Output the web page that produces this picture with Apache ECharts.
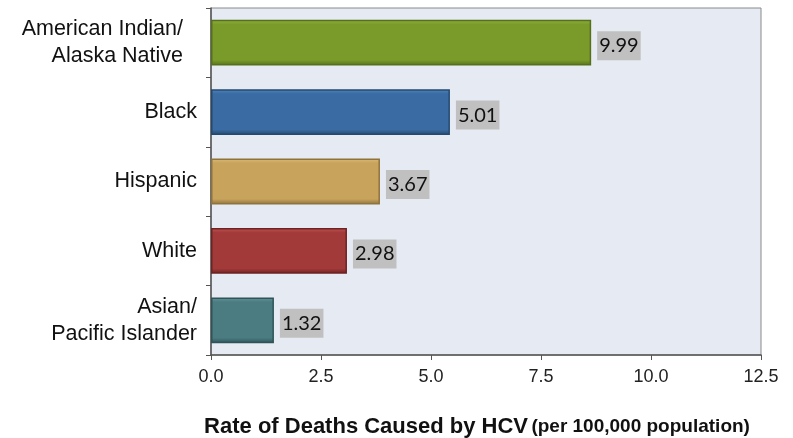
<!DOCTYPE html>
<html>
<head>
<meta charset="utf-8">
<script src="https://cdn.jsdelivr.net/npm/echarts@6/dist/echarts.min.js"></script>
<style>
  html, body { margin: 0; padding: 0; background: #fff; }
  #chart { width: 793px; height: 438px; }
</style>
</head>
<body>
<div id="chart"></div>
<script>
const categories = ['American Indian/\nAlaska Native', 'Black', 'Hispanic', 'White', 'Asian/\nPacific Islander']
// bar lengths as drawn against the axis
const barValues = [8.64, 5.43, 3.84, 3.09, 1.43]
// value labels printed next to the bars
const labelValues = ['9.99', '5.01', '3.67', '2.98', '1.32']
const barColors = [
  ['#93b43e', '#7a9a2a', '#55701a'],
  ['#4f86c0', '#3a6ca3', '#24496f'],
  ['#dcb978', '#c8a35c', '#8f733c'],
  ['#c45353', '#a33a3a', '#6e2222'],
  ['#62959b', '#4b7c82', '#2f5458']
]

const myChart = echarts.init(document.getElementById('chart'))

const option = {
  animation: false,
  grid: {
    left: 211,
    right: 32,
    top: 8,
    bottom: 83,
    containLabel: false,
    outerBoundsMode: 'none',
    show: true,
    backgroundColor: '#e6eaf3',
    borderColor: '#8a8a8a',
    borderWidth: 1
  },
  xAxis: {
    type: 'value',
    min: 0,
    max: 12.5,
    interval: 2.5,
    splitLine: { show: false },
    axisLine: { show: true, lineStyle: { color: '#555', width: 1.5 } },
    axisTick: { show: true, length: 5, lineStyle: { color: '#555' } },
    axisLabel: {
      color: '#222',
      fontFamily: 'Liberation Sans',
      fontSize: 18,
      margin: 13,
      formatter: v => v.toFixed(1)
    },
    name: '{b|Rate of Deaths Caused by HCV} {s|(per 100,000 population)}',
    nameLocation: 'middle',
    nameGap: 61,
    nameTextStyle: {
      padding: [0, 18, 0, 0],
      rich: {
        b: { fontFamily: 'Liberation Sans', fontWeight: 'bold', fontSize: 22, color: '#111' },
        s: { fontFamily: 'Liberation Sans', fontWeight: 'bold', fontSize: 19, color: '#111' }
      }
    }
  },
  yAxis: {
    type: 'category',
    data: categories,
    inverse: true,
    axisLine: { show: true, lineStyle: { color: '#555', width: 1.5 } },
    axisTick: { show: true, length: 5, lineStyle: { color: '#555' } },
    axisLabel: {
      color: '#111',
      fontFamily: 'Liberation Sans',
      fontSize: 21.5,
      lineHeight: 27,
      margin: 14,
      align: 'right',
      formatter: (v, i) => i === 0
        ? v.split('\n').map(l => '{o|' + l + '}').join('\n')
        : v,
      rich: {
        o: { fontFamily: 'Liberation Sans', fontSize: 21.5, lineHeight: 27, color: '#111', padding: [0, 14, 0, 0] }
      }
    }
  },
  series: [{
    type: 'bar',
    barCategoryGap: '34%',
    data: barValues.map((v, i) => ({
      value: v,
      itemStyle: {
        color: new echarts.graphic.LinearGradient(0, 0, 0, 1, [
          { offset: 0, color: barColors[i][0] },
          { offset: 0.1, color: barColors[i][1] },
          { offset: 0.88, color: barColors[i][1] },
          { offset: 1, color: barColors[i][2] }
        ]),
        borderColor: barColors[i][2],
        borderWidth: 1.5
      }
    })),
    label: {
      show: true,
      position: 'right',
      distance: 6,
      offset: [0, 3],
      formatter: p => labelValues[p.dataIndex],
      backgroundColor: '#c0c0c0',
      color: '#111',
      fontFamily: 'Lato',
      fontSize: 20,
      padding: [5, 2, 4, 2]
    }
  }]
}

myChart.setOption(option)
</script>
</body>
</html>
